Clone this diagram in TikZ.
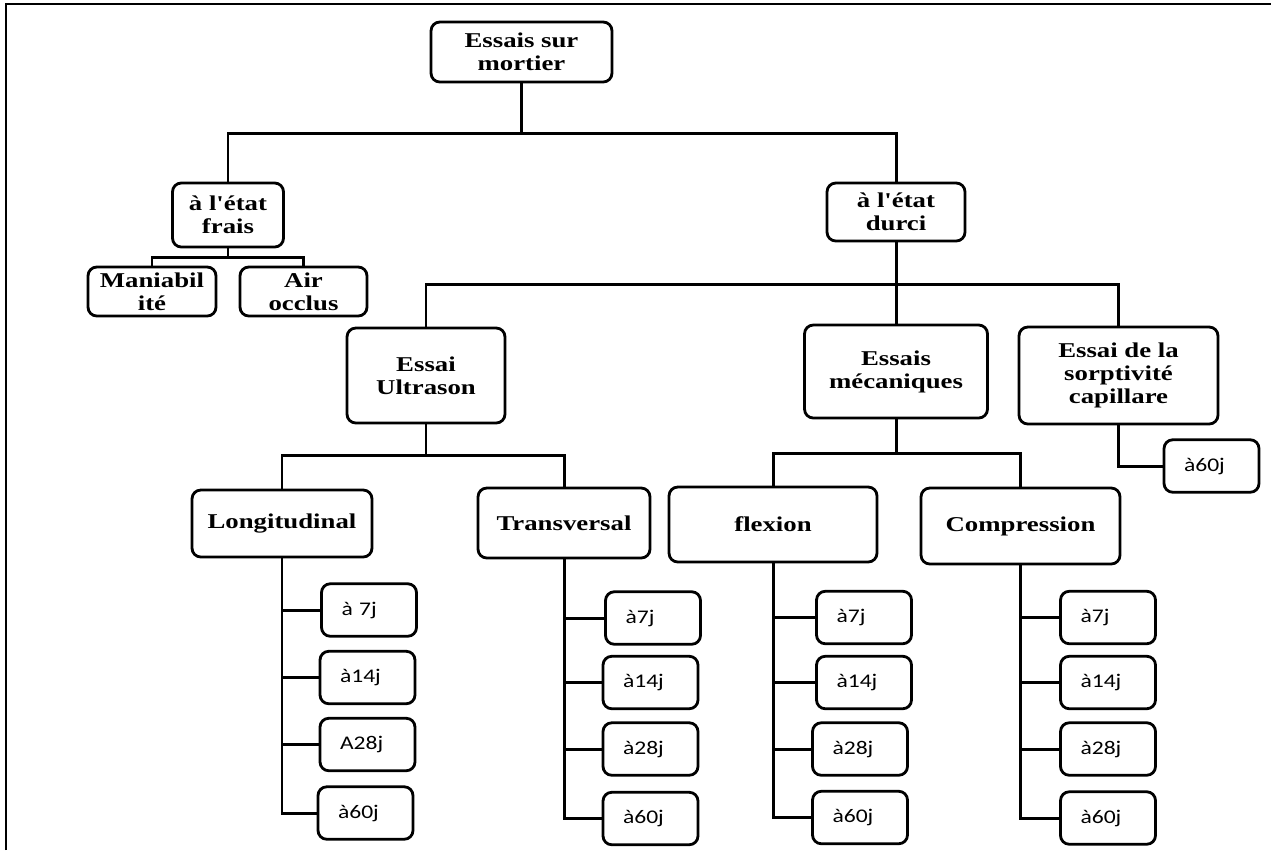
\documentclass[tikz,border=0pt]{standalone}
\usepackage{fontspec}
\newfontfamily\headserif[FakeStretch=1.27]{Liberation Serif}
\newfontfamily\leafsans[FakeStretch=1.22]{Carlito}
\tikzset{
    essai/.style={draw, line width=1.6pt, rounded corners=5pt, align=center, inner sep=0pt,
        font=\headserif\bfseries\fontsize{12}{13}\selectfont},
    jour/.style={draw, line width=1.6pt, rounded corners=5pt, align=left,
        text width=1.1cm, inner xsep=0.4cm, inner ysep=0pt, minimum height=1.05cm,
        font=\leafsans\fontsize{11}{13}\selectfont},
    lien/.style={line width=1.7pt}
}
\begin{document}
\begin{tikzpicture}[x=0.02cm, y=-0.02cm]
    \useasboundingbox (0,0) rectangle (1271,850);
    \draw[line width=1.2pt] (6,850) -- (6,4) -- (1271,4);
    % first levels
    \node[essai, minimum width=3.62cm, minimum height=1.2cm] (root) at (521.5,52) {Essais sur\\mortier};
    \node[essai, minimum width=2.22cm, minimum height=1.28cm] (frais) at (228,215) {à l'état\\frais};
    \node[essai, minimum width=2.76cm, minimum height=1.16cm] (durci) at (896,212) {à l'état\\durci};
    \node[essai, minimum width=2.56cm, minimum height=0.98cm] (mania) at (152,291.5) {Maniabil\\ité};
    \node[essai, minimum width=2.54cm, minimum height=0.98cm] (air) at (303.5,291.5) {Air\\occlus};
    \node[essai, minimum width=3.16cm, minimum height=1.9cm] (ultra) at (426,375.5) {Essai\\Ultrason};
    \node[essai, minimum width=3.66cm, minimum height=1.86cm] (meca) at (896,371.5) {Essais\\mécaniques};
    \node[essai, minimum width=3.98cm, minimum height=1.94cm] (sorp) at (1118.5,375.5) {Essai de la\\sorptivité\\capillare};
    \node[essai, minimum width=3.6cm, minimum height=1.34cm] (longi) at (282,523.5) {Longitudinal};
    \node[essai, minimum width=3.44cm, minimum height=1.4cm] (trans) at (564,523) {Transversal};
    \node[essai, minimum width=4.16cm, minimum height=1.5cm] (flex) at (773,524.5) {flexion};
    \node[essai, minimum width=3.98cm, minimum height=1.52cm] (comp) at (1020.5,526) {Compression};
    % ages
    \node[jour] (s1) at (1211.5,466) {à60j};
    \node[jour] (l1) at (369,610) {à 7j};
    \node[jour] (l2) at (367.5,677.5) {à14j};
    \node[jour] (l3) at (367.5,744.5) {A28j};
    \node[jour] (l4) at (365.5,813) {à60j};
    \node[jour] (t1) at (653,618) {à7j};
    \node[jour] (t2) at (650.5,682.5) {à14j};
    \node[jour] (t3) at (650.5,749) {à28j};
    \node[jour] (t4) at (650.5,818.5) {à60j};
    \node[jour] (f1) at (864,617.5) {à7j};
    \node[jour] (f2) at (864,682.5) {à14j};
    \node[jour] (f3) at (860,749) {à28j};
    \node[jour] (f4) at (860,817.5) {à60j};
    \node[jour] (c1) at (1108,617.5) {à7j};
    \node[jour] (c2) at (1108,682.5) {à14j};
    \node[jour] (c3) at (1108,749) {à28j};
    \node[jour] (c4) at (1108,818) {à60j};
    % branches
    \coordinate (b1) at (521.5,133);
    \coordinate (b2) at (228,257);
    \coordinate (b3) at (896,284);
    \coordinate (b4) at (426,455);
    \coordinate (b5) at (896,453);
    \draw[lien] (root.south) -- (b1) -| (frais.north);
    \draw[lien] (b1) -| (durci.north);
    \draw[lien] (frais.south) -- (b2) -| (mania.north);
    \draw[lien] (b2) -| (air.north);
    \draw[lien] (durci.south) -- (b3) -| (ultra.north);
    \draw[lien] (b3) -- (meca.north);
    \draw[lien] (b3) -| (sorp.north);
    \draw[lien] (ultra.south) -- (b4) -| (longi.north);
    \draw[lien] (b4) -| (trans.north);
    \draw[lien] (meca.south) -- (b5) -| (flex.north);
    \draw[lien] (b5) -| (comp.north);
    \draw[lien] (sorp.south) |- (s1.west);
    \draw[lien] (longi.south) |- (l4.west);
    \draw[lien] (trans.south) |- (t4.west);
    \draw[lien] (flex.south) |- (f4.west);
    \draw[lien] (comp.south) |- (c4.west);
    \foreach \n in {1,2,3} {
        \draw[lien] (l\n.west) -- (l\n.west -| longi.south);
        \draw[lien] (t\n.west) -- (t\n.west -| trans.south);
        \draw[lien] (f\n.west) -- (f\n.west -| flex.south);
        \draw[lien] (c\n.west) -- (c\n.west -| comp.south);
    }
\end{tikzpicture}
\end{document}
